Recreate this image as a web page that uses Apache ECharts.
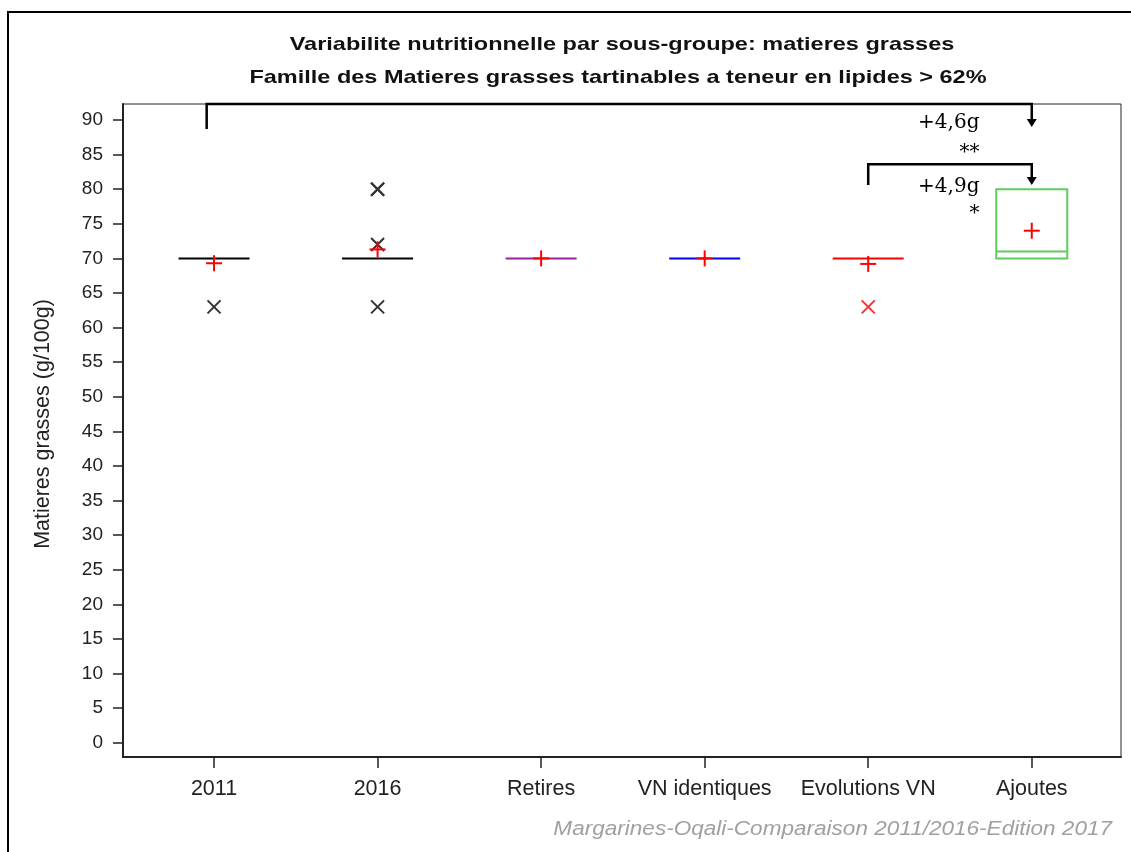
<!DOCTYPE html>
<html><head><meta charset="utf-8">
<script src="https://cdn.jsdelivr.net/npm/echarts@6/dist/echarts.min.js"></script>
<style>html,body{margin:0;padding:0;background:#fff}#c{width:1131px;height:852px}</style>
</head><body><div id="c"></div>
<script>
// ---- data ----
const categories = ['2011', '2016', 'Retires', 'VN identiques', 'Evolutions VN', 'Ajoutes'];
const boxLow    = [70, 70, 70, 70, 70, 70];   // Q1
const boxMedian = [70, 70, 70, 70, 70, 71];
const boxHigh   = [70, 70, 70, 70, 70, 80];   // Q3
const means     = [69.3, 71.3, 70, 70, 69.2, 74];
const outliers  = [[63], [80, 80, 72, 63], [], [], [63], []];
const yTicks    = [0, 5, 10, 15, 20, 25, 30, 35, 40, 45, 50, 55, 60, 65, 70, 75, 80, 85, 90];
const xTicks    = [1, 2, 3, 4, 5, 6];
// comparison annotations (x in category positions, y in g/100g)
const bracketFrom  = [0.955, 5];
const bracketTo    = [6, 6];
const bracketLevel = [92.3, 83.6];
const bracketStart = [88.7, 80.6];
const bracketArrow = [89.0, 80.6];
const diffLabels   = ['+4,6g', '+4,9g'];
const diffLabelY   = [89.6, 80.35];
const starLabels   = ['**', '*'];
const starY        = [85.7, 76.9];
const annotLabelX  = 5.68;
const titleLines   = ['Variabilite nutritionnelle par sous-groupe: matieres grasses',
                      'Famille des Matieres grasses tartinables a teneur en lipides > 62%'];
const yAxisTitle   = 'Matieres grasses (g/100g)';
const footnote     = 'Margarines-Oqali-Comparaison 2011/2016-Edition 2017';

// ---- styles ----
const boxColors = ['#000000', '#000000', '#9b1f9b', '#0000ff', '#ff0000', '#5fcc5f'];
const outlierColors = ['#333333', '#333333', '#333333', '#333333', '#ff3030', '#333333'];
const meanColor = '#ff0000';
const FONT = '"Liberation Sans", Arial, sans-serif';

const boxData = categories.map((c, i) => [i + 1, boxLow[i], boxMedian[i], boxHigh[i], i]);
const meanData = categories.map((c, i) => [i + 1, means[i]]);
const outlierData = [];
outliers.forEach((arr, i) => arr.forEach(v => outlierData.push([i + 1, v, i])));
const bracketData = bracketFrom.map((f, k) => [f, bracketTo[k], bracketLevel[k], bracketStart[k], bracketArrow[k], k]);
const labelData = diffLabels.map((t, k) => [annotLabelX, diffLabelY[k], k]);
const starData = starLabels.map((t, k) => [annotLabelX, starY[k], k]);

const chart = echarts.init(document.getElementById('c'), null, { renderer: 'canvas' });
chart.setOption({
  animation: false,
  backgroundColor: '#ffffff',
  grid: { left: 123, right: 10, top: 104, bottom: 95, show: true, borderColor: '#222', borderWidth: 1, containLabel: false },
  xAxis: {
    type: 'value', min: 0.4434, max: 6.5456,
    axisLine: { show: true, onZero: false, lineStyle: { color: '#222', width: 2 } },
    axisTick: { show: true, customValues: xTicks, length: 11, lineStyle: { color: '#222', width: 1.5 } },
    axisLabel: { customValues: xTicks, formatter: v => categories[Math.round(v) - 1], fontSize: 21.5, fontFamily: FONT, color: '#222', margin: 21 },
    splitLine: { show: false }
  },
  yAxis: {
    type: 'value', min: -2.05, max: 92.31,
    axisLine: { show: true, onZero: false, lineStyle: { color: '#222', width: 2 } },
    axisTick: { show: true, customValues: yTicks, length: 10, lineStyle: { color: '#222', width: 1.5 } },
    axisLabel: { customValues: yTicks, fontSize: 19, fontFamily: FONT, color: '#222', margin: 20 },
    splitLine: { show: false }
  },
  graphic: [
    { type: 'rect', shape: { x: 8, y: 12, width: 1300, height: 1000 }, style: { fill: 'none', stroke: '#000', lineWidth: 2 }, silent: true },
    { type: 'text', x: 622, y: 45, scaleX: 1.27, style: { text: titleLines[0], textAlign: 'center', textVerticalAlign: 'middle', font: 'bold 18.5px ' + FONT, fill: '#111' } },
    { type: 'text', x: 618, y: 78, scaleX: 1.27, style: { text: titleLines[1], textAlign: 'center', textVerticalAlign: 'middle', font: 'bold 18.5px ' + FONT, fill: '#111' } },
    { type: 'text', x: 1112, y: 829, scaleX: 1.10, style: { text: footnote, textAlign: 'right', textVerticalAlign: 'middle', font: 'italic 20.5px ' + FONT, fill: '#a0a0a0' } },
    { type: 'text', x: 43, y: 424, rotation: Math.PI / 2, style: { text: yAxisTitle, textAlign: 'center', textVerticalAlign: 'middle', font: '21.5px ' + FONT, fill: '#222' } }
  ],
  series: [
    {
      type: 'custom', name: 'box', data: boxData, z: 3,
      renderItem: (params, api) => {
        const x = api.value(0), lo = api.value(1), med = api.value(2), hi = api.value(3), idx = api.value(4);
        const pLo = api.coord([x, lo]), pMed = api.coord([x, med]), pHi = api.coord([x, hi]);
        const half = 35.5, color = boxColors[idx];
        const ch = [];
        if (hi > lo) {
          ch.push({ type: 'rect', shape: { x: pLo[0] - half, y: pHi[1], width: 2 * half, height: pLo[1] - pHi[1] }, style: { fill: 'none', stroke: color, lineWidth: 2 } });
        }
        ch.push({ type: 'line', shape: { x1: pMed[0] - half, y1: pMed[1], x2: pMed[0] + half, y2: pMed[1] }, style: { stroke: color, lineWidth: 2 } });
        return { type: 'group', children: ch };
      }
    },
    {
      type: 'custom', name: 'outliers', data: outlierData, z: 4,
      renderItem: (params, api) => {
        const p = api.coord([api.value(0), api.value(1)]);
        const color = outlierColors[api.value(2)], s = 6.5;
        return { type: 'group', children: [
          { type: 'line', shape: { x1: p[0] - s, y1: p[1] - s, x2: p[0] + s, y2: p[1] + s }, style: { stroke: color, lineWidth: 2 } },
          { type: 'line', shape: { x1: p[0] - s, y1: p[1] + s, x2: p[0] + s, y2: p[1] - s }, style: { stroke: color, lineWidth: 2 } }
        ] };
      }
    },
    {
      type: 'custom', name: 'mean', data: meanData, z: 5,
      renderItem: (params, api) => {
        const p = api.coord([api.value(0), api.value(1)]), s = 8;
        return { type: 'group', children: [
          { type: 'line', shape: { x1: p[0] - s, y1: p[1], x2: p[0] + s, y2: p[1] }, style: { stroke: meanColor, lineWidth: 2 } },
          { type: 'line', shape: { x1: p[0], y1: p[1] - s, x2: p[0], y2: p[1] + s }, style: { stroke: meanColor, lineWidth: 2 } }
        ] };
      }
    },
    {
      type: 'custom', name: 'brackets', data: bracketData, z: 6, clip: false,
      renderItem: (params, api) => {
        const f = api.value(0), t = api.value(1), lv = api.value(2), st = api.value(3), ar = api.value(4);
        const a = api.coord([f, st]), b = api.coord([f, lv]), c = api.coord([t, lv]), d = api.coord([t, ar]);
        return { type: 'group', children: [
          { type: 'polyline', shape: { points: [a, b, c, [d[0], d[1] - 7]] }, style: { stroke: '#000', lineWidth: 2.5, fill: null } },
          { type: 'polygon', shape: { points: [[d[0] - 5, d[1] - 8], [d[0] + 5, d[1] - 8], [d[0], d[1]]] }, style: { fill: '#000' } }
        ] };
      }
    },
    {
      type: 'custom', name: 'diffLabels', data: labelData, z: 7, clip: false,
      renderItem: (params, api) => {
        const p = api.coord([api.value(0), api.value(1)]);
        return { type: 'text', x: p[0], y: p[1], style: { text: diffLabels[api.value(2)], textAlign: 'right', textVerticalAlign: 'middle', font: '20px "DejaVu Serif", serif', fill: '#000' } };
      }
    },
    {
      type: 'custom', name: 'stars', data: starData, z: 7, clip: false,
      renderItem: (params, api) => {
        const p = api.coord([api.value(0), api.value(1)]);
        return { type: 'text', x: p[0], y: p[1] + 3, style: { text: starLabels[api.value(2)], textAlign: 'right', textVerticalAlign: 'middle', font: '20px "DejaVu Serif", serif', fill: '#000' } };
      }
    }
  ]
});
</script>
</body></html>
